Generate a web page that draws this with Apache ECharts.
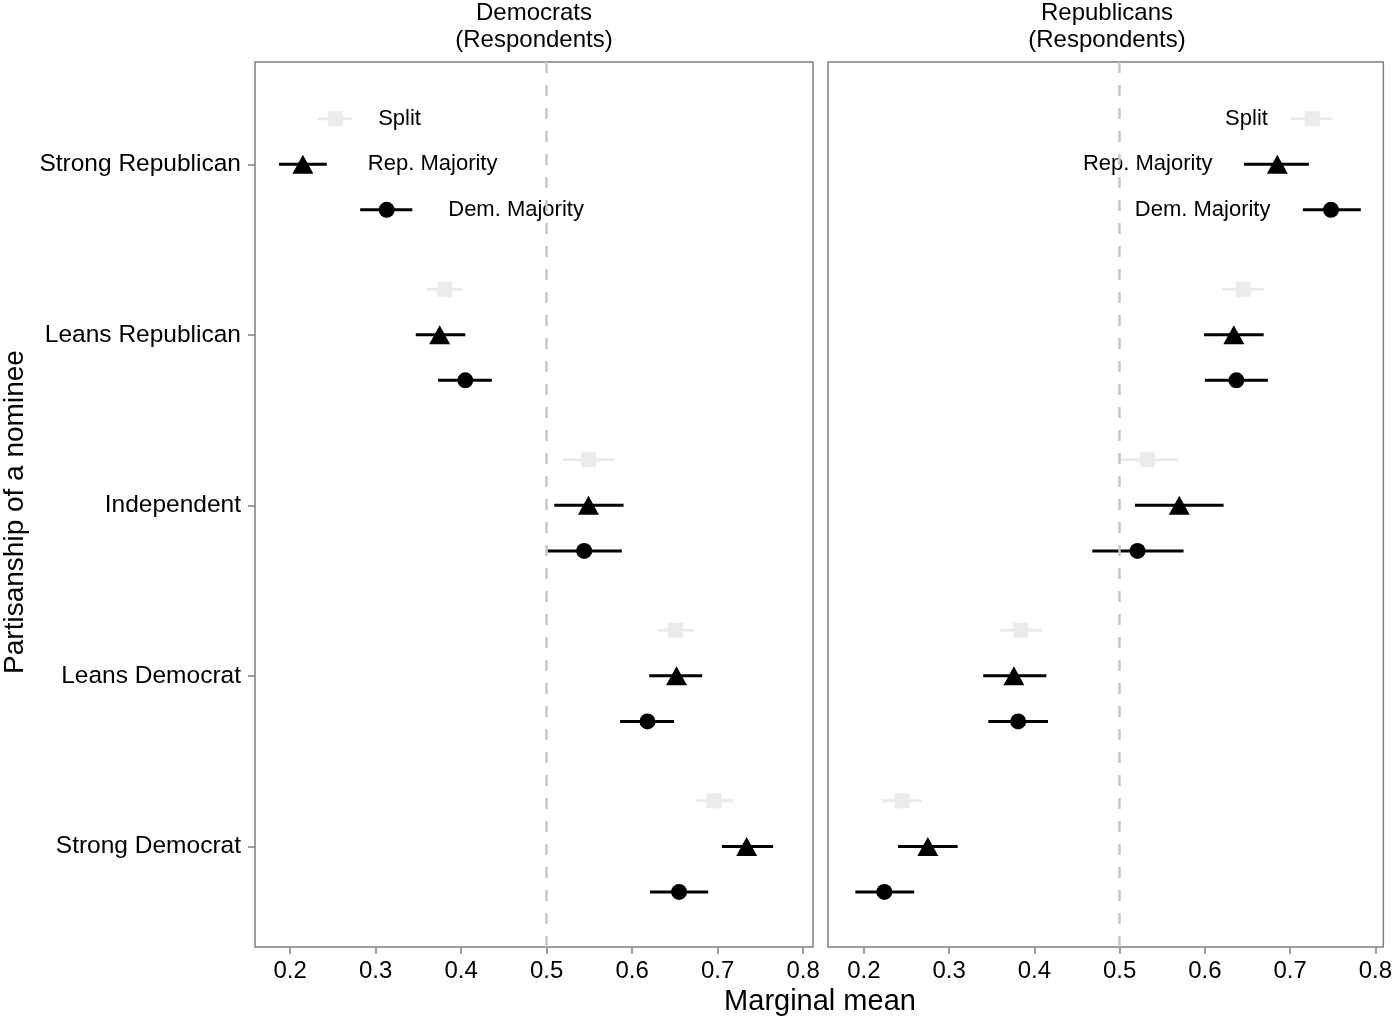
<!DOCTYPE html>
<html>
<head>
<meta charset="utf-8">
<script src="https://cdn.jsdelivr.net/npm/echarts@6/dist/echarts.min.js"></script>
<style>
  html, body { margin: 0; padding: 0; background: #fff; }
  #chart { width: 1395px; height: 1027px; }
</style>
</head>
<body>
<div id="chart"></div>
<script>
const categories = ["Strong Republican", "Leans Republican", "Independent", "Leans Democrat", "Strong Democrat"];
const groups = ["Split", "Rep. Majority", "Dem. Majority"];
const xTicks = [0.2, 0.3, 0.4, 0.5, 0.6, 0.7, 0.8];

// Democrats (Respondents)
const demSplitMean = [0.253, 0.381, 0.549, 0.651, 0.696];
const demSplitLow  = [0.232, 0.360, 0.519, 0.630, 0.674];
const demSplitHigh = [0.273, 0.402, 0.579, 0.672, 0.718];
const demRepMean = [0.215, 0.375, 0.549, 0.652, 0.734];
const demRepLow  = [0.187, 0.347, 0.509, 0.620, 0.705];
const demRepHigh = [0.243, 0.405, 0.590, 0.682, 0.765];
const demDemMean = [0.313, 0.405, 0.544, 0.618, 0.655];
const demDemLow  = [0.282, 0.373, 0.501, 0.586, 0.621];
const demDemHigh = [0.343, 0.436, 0.588, 0.649, 0.689];

// Republicans (Respondents)
const repSplitMean = [0.726, 0.645, 0.533, 0.384, 0.245];
const repSplitLow  = [0.701, 0.620, 0.500, 0.359, 0.221];
const repSplitHigh = [0.750, 0.670, 0.569, 0.410, 0.268];
const repRepMean = [0.685, 0.634, 0.570, 0.376, 0.275];
const repRepLow  = [0.646, 0.599, 0.518, 0.340, 0.240];
const repRepHigh = [0.722, 0.669, 0.622, 0.414, 0.310];
const repDemMean = [0.748, 0.637, 0.521, 0.381, 0.224];
const repDemLow  = [0.715, 0.600, 0.468, 0.346, 0.190];
const repDemHigh = [0.783, 0.674, 0.575, 0.416, 0.259];

// where the in-panel group labels sit (x in data units)
const demLabelX = [0.303, 0.291, 0.385];
const repLabelX = [0.674, 0.609, 0.677];

const offsets = [-0.267, 0, 0.267];
const colors = ["#ebebeb", "#000000", "#000000"];
const symbols = ["rect", "triangle", "circle"];
const symbolSizes = [15, [21, 19], 16];
const font = "'Liberation Sans', Arial, Helvetica, sans-serif";

let chart = echarts.init(document.getElementById("chart"));

function errorBar(color) {
  return function (params, api) {
    const a = api.coord([api.value(0), api.value(2)]);
    const b = api.coord([api.value(1), api.value(2)]);
    return {
      type: "line",
      shape: { x1: a[0], y1: a[1], x2: b[0], y2: b[1] },
      style: { stroke: color, lineWidth: 3 },
    };
  };
}

function panelSeries(idx, means, lows, highs, labelX, labelPos) {
  let series = [];
  series.push({
    type: "scatter",
    xAxisIndex: idx,
    yAxisIndex: idx,
    data: [],
    silent: true,
    z: 1,
    markLine: {
      silent: true,
      symbol: "none",
      label: { show: false },
      lineStyle: { type: [11, 12], color: "#c8c8c8", width: 2.5 },
      data: [{ xAxis: 0.5 }],
    },
  });
  groups.forEach((g, k) => {
    series.push({
      type: "custom",
      xAxisIndex: idx,
      yAxisIndex: idx,
      renderItem: errorBar(colors[k]),
      encode: { x: [0, 1], y: 2 },
      data: categories.map((c, i) => [lows[k][i], highs[k][i], i + offsets[k]]),
      z: 2,
    });
    series.push({
      type: "scatter",
      xAxisIndex: idx,
      yAxisIndex: idx,
      symbol: symbols[k],
      symbolSize: symbolSizes[k],
      itemStyle: { color: colors[k], opacity: 1 },
      data: categories.map((c, i) => [means[k][i], i + offsets[k]]),
      z: 3,
    });
  });
  series.push({
    type: "scatter",
    xAxisIndex: idx,
    yAxisIndex: idx,
    symbolSize: 0,
    itemStyle: { color: "#000", opacity: 1 },
    label: {
      show: true,
      position: labelPos,
      distance: 0,
      formatter: "{b}",
      fontFamily: font,
      fontSize: 22,
      color: "#000",
      opacity: 1,
    },
    data: groups.map((g, k) => ({ name: g, value: [labelX[k], offsets[k]] })),
    z: 4,
  });
  return series;
}

function xAxis(idx, min, max) {
  return {
    type: "value",
    gridIndex: idx,
    position: "bottom",
    min: min,
    max: max,
    splitLine: { show: false },
    axisLine: { show: false, onZero: false },
    axisTick: { show: true, customValues: xTicks, length: 7, lineStyle: { color: "#7f7f7f", width: 1.5 } },
    axisLabel: {
      customValues: xTicks,
      formatter: (v) => v.toFixed(1),
      margin: 12,
      fontFamily: font,
      fontSize: 24,
      color: "#000",
    },
  };
}

function yAxis(idx, showLabels) {
  return {
    type: "value",
    gridIndex: idx,
    position: "left",
    inverse: true,
    min: -0.6,
    max: 4.59,
    splitLine: { show: false },
    axisLine: { show: false, onZero: false },
    axisTick: { show: showLabels, customValues: [0, 1, 2, 3, 4], length: 7, lineStyle: { color: "#7f7f7f", width: 1.5 } },
    axisLabel: {
      show: showLabels,
      customValues: [0, 1, 2, 3, 4],
      formatter: (v) => categories[Math.round(v)],
      margin: 14,
      fontFamily: font,
      fontSize: 24.5,
      color: "#000",
    },
  };
}

chart.setOption({
  animation: false,
  backgroundColor: "#fff",
  grid: [
    { left: 255, top: 62, width: 558, height: 885, show: true, borderColor: "#7f7f7f", borderWidth: 1.5 },
    { left: 828, top: 62, width: 557, height: 885, show: true, borderColor: "#7f7f7f", borderWidth: 1.5 },
  ],
  xAxis: [xAxis(0, 0.159, 0.8116), xAxis(1, 0.1579, 0.8094)],
  yAxis: [yAxis(0, true), yAxis(1, false)],
  graphic: [
    {
      type: "text", x: 534, y: 27,
      style: { text: "Democrats\n(Respondents)", font: "24px " + font, fill: "#000", align: "center", verticalAlign: "middle", lineHeight: 27 },
    },
    {
      type: "text", x: 1107, y: 27,
      style: { text: "Republicans\n(Respondents)", font: "24px " + font, fill: "#000", align: "center", verticalAlign: "middle", lineHeight: 27 },
    },
    {
      type: "text", x: 820, y: 1002,
      style: { text: "Marginal mean", font: "29px " + font, fill: "#000", align: "center", verticalAlign: "middle" },
    },
    {
      type: "text", x: 15, y: 512, rotation: Math.PI / 2,
      style: { text: "Partisanship of a nominee", font: "28px " + font, fill: "#000", align: "center", verticalAlign: "middle" },
    },
  ],
  series: [
    ...panelSeries(0,
      [demSplitMean, demRepMean, demDemMean],
      [demSplitLow, demRepLow, demDemLow],
      [demSplitHigh, demRepHigh, demDemHigh],
      demLabelX, "right"),
    ...panelSeries(1,
      [repSplitMean, repRepMean, repDemMean],
      [repSplitLow, repRepLow, repDemLow],
      [repSplitHigh, repRepHigh, repDemHigh],
      repLabelX, "left"),
  ],
});

window.addEventListener("resize", function () {
  chart.resize();
});
</script>
</body>
</html>
